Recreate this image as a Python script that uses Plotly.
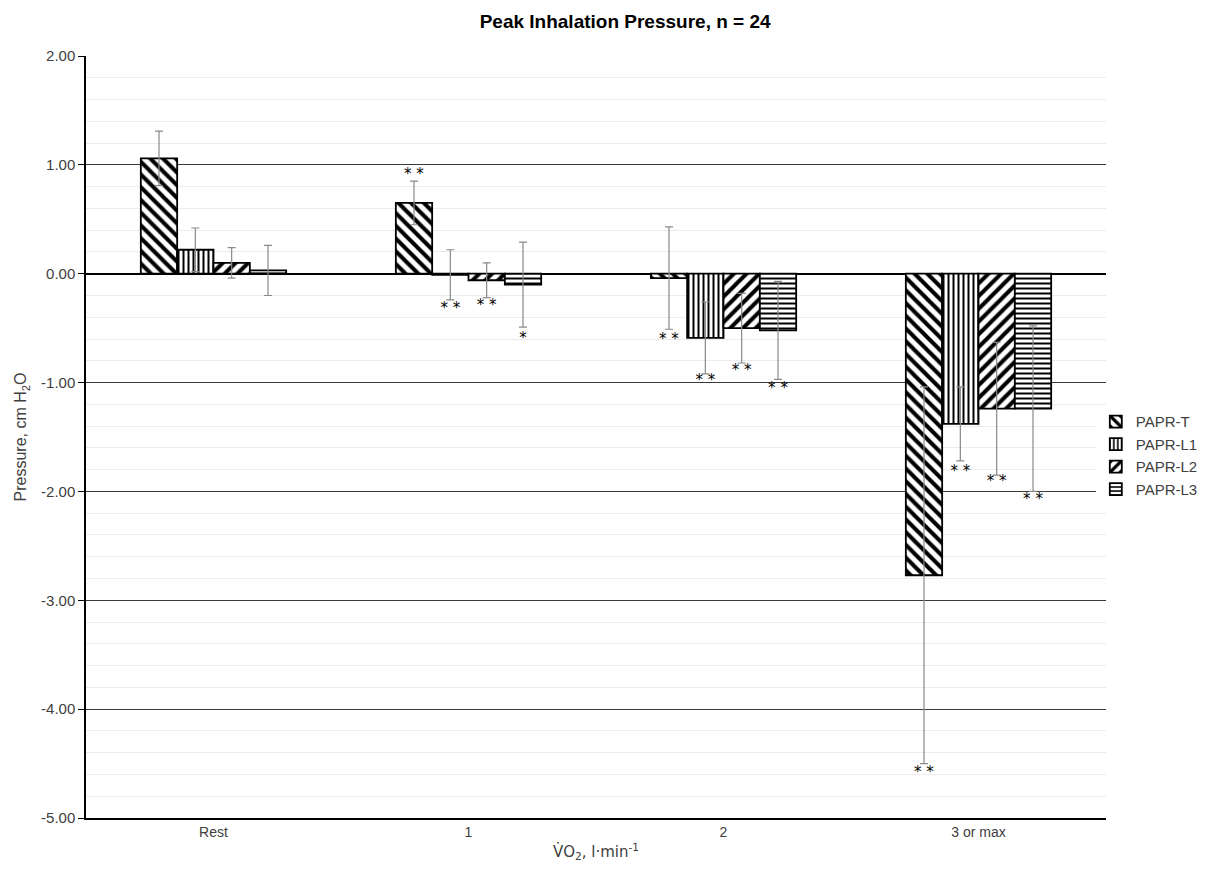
import plotly.graph_objects as go

categories = ["Rest", "1", "2", "3 or max"]
series_names = ["PAPR-T", "PAPR-L1", "PAPR-L2", "PAPR-L3"]
papr_t = [1.06, 0.65, -0.04, -2.77]
papr_l1 = [0.22, -0.01, -0.59, -1.38]
papr_l2 = [0.10, -0.06, -0.50, -1.24]
papr_l3 = [0.03, -0.10, -0.52, -1.24]
err_t = [0.25, 0.20, 0.47, 1.73]
err_l1 = [0.20, 0.23, 0.33, 0.34]
err_l2 = [0.14, 0.16, 0.32, 0.61]
err_l3 = [0.23, 0.39, 0.45, 0.76]
sig_t = ["", "* *", "* *", "* *"]
sig_l1 = ["", "* *", "* *", "* *"]
sig_l2 = ["", "* *", "* *", "* *"]
sig_l3 = ["", "*", "* *", "* *"]
sig_pos_t = [None, 0.90, -0.61, -4.59]
sig_pos_l1 = [None, -0.33, -0.99, -1.82]
sig_pos_l2 = [None, -0.30, -0.90, -1.92]
sig_pos_l3 = [None, -0.60, -1.06, -2.08]
y_ticks = [2, 1, 0, -1, -2, -3, -4, -5]
y_tick_labels = ["2.00", "1.00", "0.00", "-1.00", "-2.00", "-3.00", "-4.00", "-5.00"]

values = [papr_t, papr_l1, papr_l2, papr_l3]
errors = [err_t, err_l1, err_l2, err_l3]
sigs = [sig_t, sig_l1, sig_l2, sig_l3]
sig_pos = [sig_pos_t, sig_pos_l1, sig_pos_l2, sig_pos_l3]
shapes = ["\\", "|", "/", "-"]
pattern_sizes = [9, 5, 9, 5]
pattern_solidity = [0.45, 0.4, 0.45, 0.4]

bargap = 0.43
n = len(series_names)
w = (1 - bargap) / n
xs = list(range(len(categories)))

fig = go.Figure()
for k in range(n):
    fig.add_trace(go.Bar(
        x=xs, y=values[k], name=series_names[k],
        marker=dict(color="white", line=dict(color="black", width=1.8),
                    pattern=dict(shape=shapes[k], fgcolor="#000000", bgcolor="white",
                                 fgopacity=1, fillmode="replace",
                                 size=pattern_sizes[k], solidity=pattern_solidity[k])),
        error_y=dict(type="data", array=errors[k], color="#8a8a8a", thickness=1.2, width=4),
    ))

for k in range(n):
    off = (k - (n - 1) / 2) * w
    px, py, pt = [], [], []
    for i in xs:
        if sig_pos[k][i] is not None:
            px.append(i + off)
            py.append(sig_pos[k][i])
            pt.append(sigs[k][i])
    fig.add_trace(go.Scatter(x=px, y=py, text=pt, mode="text", showlegend=False,
                             textfont=dict(size=15, color="#000000", family="DejaVu Sans"),
                             textposition="middle center", hoverinfo="skip"))

fig.update_layout(
    width=1222, height=873,
    paper_bgcolor="white", plot_bgcolor="white",
    barmode="group", bargap=bargap, bargroupgap=0,
    margin=dict(l=78, r=124, t=48, b=63),
    font=dict(family="Liberation Sans, Arial, sans-serif", color="#404040"),
    title=dict(text="<b>Peak Inhalation Pressure, n = 24</b>", x=0.505, xanchor="center",
               y=0.992, yanchor="top", font=dict(size=19, color="#000000")),
    legend=dict(x=0.99, y=0.476, xanchor="left", yanchor="middle",
                font=dict(size=15, color="#404040"), tracegroupgap=4,
                itemwidth=30),
    xaxis=dict(tickmode="array", tickvals=xs, ticktext=categories, range=[-0.5, 3.5],
               showline=True, linecolor="black", linewidth=1.5, ticks="",
               showgrid=False, zeroline=False, automargin=False,
               tickfont=dict(size=14, color="#404040"),
               title=dict(text="V\u0307O<sub>2</sub>, l·min<sup>-1</sup>", font=dict(size=15, color="#404040", family="DejaVu Sans"), standoff=8)),
    yaxis=dict(range=[-5, 2], tickmode="array", tickvals=y_ticks, ticktext=y_tick_labels,
               showgrid=True, gridcolor="#3a3a3a", gridwidth=1,
               minor=dict(dtick=0.2, showgrid=True, gridcolor="#ececec", gridwidth=1),
               zeroline=True, zerolinecolor="black", zerolinewidth=1.5,
               showline=True, linecolor="black", linewidth=1.5,
               ticks="outside", ticklen=6, tickcolor="black", automargin=False,
               tickfont=dict(size=15, color="#404040"),
               title=dict(text="Pressure, cm H<sub>2</sub>O", font=dict(size=16, color="#404040"), standoff=10)),
)

fig.write_html("out.html")
